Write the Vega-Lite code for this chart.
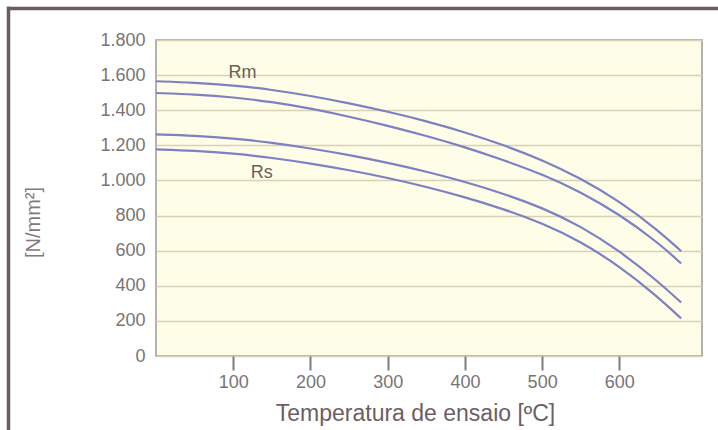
{
  "$schema": "https://vega.github.io/schema/vega-lite/v6.json",
  "width": 546,
  "height": 316,
  "autosize": {"type": "none"},
  "padding": {"left": 156, "top": 40, "right": 16, "bottom": 74},
  "background": "white",
  "config": {
    "font": "Liberation Sans",
    "view": {"fill": "#fefde7", "stroke": "#9b9898", "strokeWidth": 1.5}
  },
  "datasets": {
    "curves": [
      {"series": "Rm1", "T": 0, "v": 1565}, {"series": "Rm1", "T": 50, "v": 1557}, {"series": "Rm1", "T": 100, "v": 1542}, {"series": "Rm1", "T": 150, "v": 1517}, {"series": "Rm1", "T": 200, "v": 1482}, {"series": "Rm1", "T": 250, "v": 1440}, {"series": "Rm1", "T": 300, "v": 1392}, {"series": "Rm1", "T": 350, "v": 1338}, {"series": "Rm1", "T": 400, "v": 1275}, {"series": "Rm1", "T": 450, "v": 1202}, {"series": "Rm1", "T": 500, "v": 1117}, {"series": "Rm1", "T": 550, "v": 1012}, {"series": "Rm1", "T": 600, "v": 882}, {"series": "Rm1", "T": 650, "v": 717}, {"series": "Rm1", "T": 680, "v": 597},
      {"series": "Rm2", "T": 0, "v": 1498}, {"series": "Rm2", "T": 50, "v": 1490}, {"series": "Rm2", "T": 100, "v": 1474}, {"series": "Rm2", "T": 150, "v": 1448}, {"series": "Rm2", "T": 200, "v": 1410}, {"series": "Rm2", "T": 250, "v": 1364}, {"series": "Rm2", "T": 300, "v": 1312}, {"series": "Rm2", "T": 350, "v": 1254}, {"series": "Rm2", "T": 400, "v": 1190}, {"series": "Rm2", "T": 450, "v": 1116}, {"series": "Rm2", "T": 500, "v": 1035}, {"series": "Rm2", "T": 550, "v": 935}, {"series": "Rm2", "T": 600, "v": 807}, {"series": "Rm2", "T": 650, "v": 647}, {"series": "Rm2", "T": 680, "v": 527},
      {"series": "Rs1", "T": 0, "v": 1262}, {"series": "Rs1", "T": 50, "v": 1255}, {"series": "Rs1", "T": 100, "v": 1240}, {"series": "Rs1", "T": 150, "v": 1215}, {"series": "Rs1", "T": 200, "v": 1183}, {"series": "Rs1", "T": 250, "v": 1145}, {"series": "Rs1", "T": 300, "v": 1101}, {"series": "Rs1", "T": 350, "v": 1051}, {"series": "Rs1", "T": 400, "v": 993}, {"series": "Rs1", "T": 450, "v": 925}, {"series": "Rs1", "T": 500, "v": 845}, {"series": "Rs1", "T": 550, "v": 740}, {"series": "Rs1", "T": 600, "v": 600}, {"series": "Rs1", "T": 650, "v": 425}, {"series": "Rs1", "T": 680, "v": 305},
      {"series": "Rs2", "T": 0, "v": 1177}, {"series": "Rs2", "T": 50, "v": 1170}, {"series": "Rs2", "T": 100, "v": 1154}, {"series": "Rs2", "T": 150, "v": 1129}, {"series": "Rs2", "T": 200, "v": 1097}, {"series": "Rs2", "T": 250, "v": 1059}, {"series": "Rs2", "T": 300, "v": 1015}, {"series": "Rs2", "T": 350, "v": 964}, {"series": "Rs2", "T": 400, "v": 905}, {"series": "Rs2", "T": 450, "v": 837}, {"series": "Rs2", "T": 500, "v": 757}, {"series": "Rs2", "T": 550, "v": 652}, {"series": "Rs2", "T": 600, "v": 512}, {"series": "Rs2", "T": 650, "v": 337}, {"series": "Rs2", "T": 680, "v": 214}
    ],
    "labels": [
      {"label": "Rm", "T": 112, "v": 1614},
      {"label": "Rs", "T": 137, "v": 1042}
    ]
  },
  "layer": [
    {
      "data": {"name": "curves"},
      "mark": {"type": "line", "interpolate": "basis", "strokeWidth": 2.2, "color": "#7d80c2"},
      "encoding": {
        "x": {
          "field": "T", "type": "quantitative",
          "scale": {"domain": [0, 707], "nice": false, "zero": false},
          "axis": {
            "values": [100, 200, 300, 400, 500, 600],
            "tickCount": 20,
            "grid": false, "domain": false,
            "ticks": true, "tickColor": "#837b7b", "tickWidth": 2, "tickSize": 14,
            "labelPadding": 3, "labelFontSize": 18, "labelColor": "#7a7474",
            "title": "Temperatura de ensaio [ºC]",
            "titleFontSize": 23, "titleFontWeight": "normal", "titleColor": "#6c5e64",
            "titleX": 259, "titleY": 57, "titleBaseline": "middle", "titleAlign": "center"
          }
        },
        "y": {
          "field": "v", "type": "quantitative",
          "scale": {"domain": [0, 1800], "nice": false},
          "axis": {
            "values": [0, 200, 400, 600, 800, 1000, 1200, 1400, 1600, 1800],
            "tickCount": 20,
            "labelOverlap": false,
            "labelExpr": "replace(format(datum.value, ','), ',', '.')",
            "grid": true, "gridColor": "#d6d2b6", "gridWidth": 1.3,
            "domain": false, "ticks": false,
            "labelPadding": 11, "labelFontSize": 18, "labelColor": "#7a7474",
            "title": "[N/mm²]",
            "titleFontSize": 20, "titleFontWeight": "normal", "titleColor": "#85777c",
            "titleAngle": -90, "titleX": -123, "titleY": 182,
            "titleAlign": "center", "titleBaseline": "middle"
          }
        },
        "detail": {"field": "series"}
      }
    },
    {
      "data": {"name": "labels"},
      "mark": {"type": "text", "fontSize": 18, "color": "#6b5d58", "align": "center", "baseline": "middle"},
      "encoding": {
        "x": {"field": "T", "type": "quantitative"},
        "y": {"field": "v", "type": "quantitative"},
        "text": {"field": "label"}
      }
    },
    {
      "data": {"values": [{}]},
      "mark": {"type": "rule", "color": "#6d5a62", "strokeWidth": 3.5, "clip": false},
      "encoding": {"x": {"datum": -191}, "y": {"datum": 1990}, "y2": {"datum": -600}}
    },
    {
      "data": {"values": [{}]},
      "mark": {"type": "rule", "color": "#6d5a62", "strokeWidth": 3.5, "clip": false},
      "encoding": {"y": {"datum": 1979}, "x": {"datum": -193}, "x2": {"datum": 800}}
    }
  ]
}
